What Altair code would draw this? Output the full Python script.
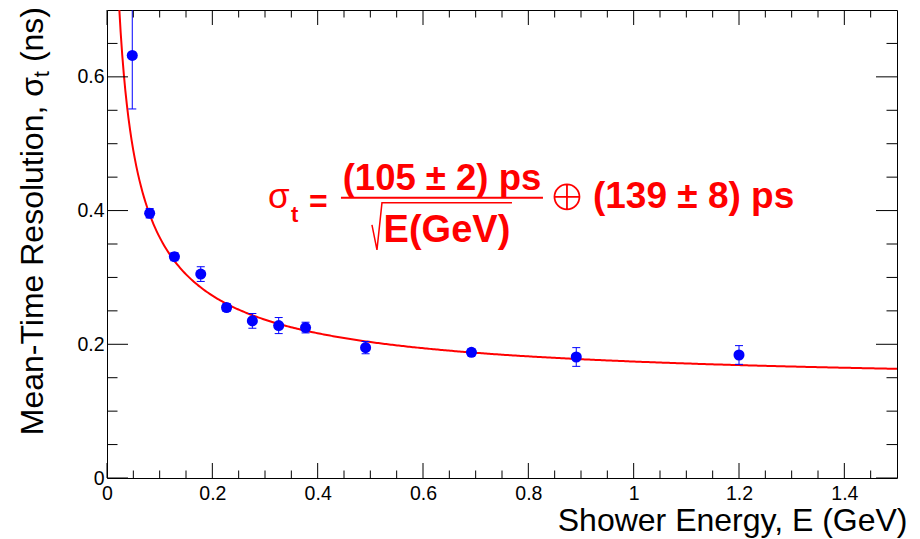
import altair as alt
import numpy as np
import pandas as pd

# Mean-time resolution in each shower-energy bin (E in GeV, sigma in ns)
energy = [0.048, 0.081, 0.128, 0.178, 0.227, 0.276, 0.326, 0.377, 0.491, 0.692, 0.891, 1.200]
sigma_t = [0.632, 0.396, 0.331, 0.305, 0.255, 0.235, 0.228, 0.225, 0.195, 0.188, 0.181, 0.184]
sigma_err = [0.080, 0.007, 0.006, 0.011, 0.006, 0.011, 0.012, 0.008, 0.009, 0.005, 0.014, 0.014]

# Fit result: sigma_t = a / sqrt(E)  (+)  b   (ns)
fit_a = 0.105
fit_b = 0.139

# Axis ticks
x_major = [0.0, 0.2, 0.4, 0.6, 0.8, 1.0, 1.2, 1.4]
x_minor = [0.05, 0.10, 0.15, 0.25, 0.30, 0.35, 0.45, 0.50, 0.55, 0.65, 0.70, 0.75,
           0.85, 0.90, 0.95, 1.05, 1.10, 1.15, 1.25, 1.30, 1.35, 1.45]
y_major = [0.0, 0.2, 0.4, 0.6]
y_minor = [0.05, 0.10, 0.15, 0.25, 0.30, 0.35, 0.45, 0.50, 0.55, 0.65]

# Where the fit formula sits (data coordinates)
formula_at = {"E": [0.636], "s": [0.419]}

W, H = 790, 468
FONT = "Liberation Sans"
BLUE = "#0000ff"
RED = "#ff0000"

x_scale = alt.Scale(domain=[0, 1.5], nice=False, zero=False)
y_scale = alt.Scale(domain=[0, 0.7], nice=False, zero=False)

x_axis = alt.Axis(
    values=x_major, format="~g", grid=False, ticks=False, tickSize=0, domain=False,
    labelFont=FONT, labelFontSize=19.5, labelColor="black", labelPadding=6,
    labelFlush=False, labelOverlap=False,
    title="Shower Energy, E (GeV)", titleFont=FONT, titleFontSize=32,
    titleFontWeight="normal", titleColor="black", titleAlign="right",
    titleBaseline="alphabetic", titleX=800, titleY=52, titleAngle=0,
)
y_axis = alt.Axis(
    values=y_major, format="~g", grid=False, ticks=False, tickSize=0, domain=False,
    labelFont=FONT, labelFontSize=19.5, labelColor="black", labelPadding=3,
    labelFlush=False, labelOverlap=False, title=None,
)


def X(field):
    return alt.X(f"{field}:Q", scale=x_scale, axis=x_axis)


def Y(field):
    return alt.Y(f"{field}:Q", scale=y_scale, axis=y_axis)


points = pd.DataFrame({"E": energy, "s": sigma_t, "err": sigma_err})
points["lo"] = points["s"] - points["err"]
points["hi"] = points["s"] + points["err"]
caps = pd.concat([
    pd.DataFrame({"E": energy, "s": points["lo"]}),
    pd.DataFrame({"E": energy, "s": points["hi"]}),
])

e_grid = np.linspace(0.02, 1.5, 500)
curve = pd.DataFrame({"E": e_grid, "s": np.sqrt(fit_a ** 2 / e_grid + fit_b ** 2)})

fit_line = alt.Chart(curve).mark_line(color=RED, strokeWidth=2, clip=True).encode(
    x=X("E"), y=Y("s"))

err_bars = alt.Chart(points).mark_rule(color=BLUE, strokeWidth=1, clip=True).encode(
    x=X("E"), y=Y("lo"), y2="hi")
err_caps = alt.Chart(caps).mark_tick(
    color=BLUE, orient="horizontal", size=8, thickness=1, opacity=1, clip=True
).encode(x=X("E"), y=Y("s"))
markers = alt.Chart(points).mark_circle(size=122, color=BLUE, opacity=1).encode(
    x=X("E"), y=Y("s"))

# Inward ticks on all four sides of the frame
def x_ticks(values, length):
    df = pd.DataFrame({"E": values})
    base = alt.Chart(df).mark_rule(color="black", strokeWidth=1)
    bottom = base.encode(x=X("E"), y=alt.value(H), y2=alt.value(H - length))
    top = base.encode(x=X("E"), y=alt.value(0), y2=alt.value(length))
    return [bottom, top]


def y_ticks(values, length):
    df = pd.DataFrame({"s": values})
    base = alt.Chart(df).mark_rule(color="black", strokeWidth=1)
    left = base.encode(y=Y("s"), x=alt.value(0), x2=alt.value(length))
    right = base.encode(y=Y("s"), x=alt.value(W), x2=alt.value(W - length))
    return [left, right]


tick_layers = (x_ticks(x_major, 15) + x_ticks(x_minor, 7.5)
               + y_ticks(y_major, 21) + y_ticks(y_minor, 10.5))

# Fit formula, built around one anchor point
anchor = pd.DataFrame(formula_at)


def ftext(text, dx, dy, size, weight="bold", align="left"):
    return alt.Chart(anchor).mark_text(
        text=text, dx=dx, dy=dy, fontSize=size, fontWeight=weight, font=FONT,
        color=RED, align=align, baseline="alphabetic",
    ).encode(x=X("E"), y=Y("s"))


def fpath(path, width):
    return alt.Chart(anchor).mark_point(
        shape=path, size=4, filled=False, color=RED, strokeWidth=width, opacity=1,
    ).encode(x=X("E"), y=Y("s"))


formula = [
    ftext("σ", -174, 10, 35, weight="normal"),
    ftext("t", -151, 24, 22),
    ftext("=", -133, 14, 32),
    ftext("(105 ± 2) ps", 0, -8, 36.5, align="center"),
    fpath("M-101,0L101,0", 2),
    fpath("M-70,27L-65,52L-60,5L70,5", 1.5),
    ftext("E(GeV)", 5, 44, 38, align="center"),
    fpath("M112.5,-1A12.5,12.5,0,1,1,137.5,-1A12.5,12.5,0,1,1,112.5,-1"
          "M112.5,-1L137.5,-1M125,-13.5L125,11.5", 1.8),
    ftext("(139 ± 8) ps", 151, 10, 37),
]

# Y-axis title with a real subscript, written in three rotated pieces
title_row = pd.DataFrame({"k": [0]})


def ytitle(text, x, y, size):
    return alt.Chart(title_row).mark_text(
        text=text, angle=270, align="right", baseline="alphabetic",
        font=FONT, fontSize=size, color="black",
    ).encode(x=alt.value(x), y=alt.value(y))


y_title = [
    ytitle("(ns)", -64, -3, 32),
    ytitle("t", -58, 61, 22),
    ytitle("Mean-Time Resolution, σ", -64, 67, 32),
]

chart = alt.layer(
    fit_line, err_bars, err_caps, markers, *tick_layers, *formula, *y_title
).properties(
    width=W, height=H,
    padding={"left": 107, "top": 10, "right": 23, "bottom": 61},
    autosize=alt.AutoSizeParams(type="none"),
    background="white",
).configure_view(stroke="black", strokeWidth=1)

chart.save("out.html", embed_options={"renderer": "svg", "actions": False})
